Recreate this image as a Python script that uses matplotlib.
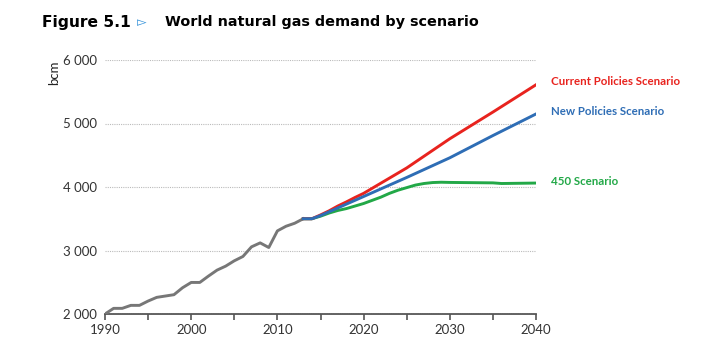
import matplotlib.pyplot as plt
from matplotlib.ticker import FuncFormatter, MultipleLocator

# historical demand (bcm)
hist_years = list(range(1990, 2014))
hist_vals = [2000, 2089, 2089, 2136, 2136, 2204, 2262, 2283, 2304, 2414,
             2497, 2497, 2597, 2691, 2754, 2838, 2906, 3058, 3120, 3047,
             3309, 3382, 3429, 3500]

# scenario projections
proj_years = [2013, 2014, 2015, 2016, 2017, 2018, 2019, 2020, 2025, 2030, 2035, 2040]
current_pol = [3500, 3500, 3560, 3625, 3700, 3765, 3835, 3900, 4300, 4760, 5180, 5610]
new_pol = [3500, 3500, 3550, 3610, 3670, 3730, 3790, 3850, 4150, 4460, 4810, 5150]

s450_years = [2013, 2014, 2015, 2016, 2017, 2018, 2019, 2020, 2021, 2022, 2023,
              2024, 2025, 2026, 2027, 2028, 2029, 2030, 2035, 2036, 2040]
s450 = [3500, 3500, 3540, 3590, 3630, 3660, 3700, 3740, 3790, 3840, 3900,
        3950, 3990, 4030, 4055, 4070, 4075, 4072, 4065, 4055, 4062]

red = '#e8231e'
blue = '#2e6db5'
green = '#22a847'
grey = '#777777'

fig = plt.figure(figsize=(7.15, 3.6), dpi=100)
ax = fig.add_axes([105/715, 1-314/360, 431/715, 254/360])

ax.plot(hist_years, hist_vals, color=grey, lw=2.1, solid_joinstyle='round')
ax.plot(s450_years, s450, color=green, lw=2.1)
ax.plot(proj_years, current_pol, color=red, lw=2.1)
ax.plot(proj_years, new_pol, color=blue, lw=2.1)

ax.set_xlim(1990, 2040)
ax.set_ylim(2000, 6000)
ax.set_xticks(range(1990, 2041, 10))
ax.xaxis.set_minor_locator(MultipleLocator(5))
ax.set_yticks([2000, 3000, 4000, 5000, 6000])
ax.yaxis.set_major_formatter(FuncFormatter(lambda v, p: f'{int(v):,}'.replace(',', ' ')))

for s in ['top', 'right', 'left']:
    ax.spines[s].set_visible(False)
ax.spines['bottom'].set_color('#555555')
ax.spines['bottom'].set_linewidth(1.3)
ax.spines['bottom'].set_zorder(0)
ax.tick_params(axis='x', which='both', length=4, width=1.2, color='#555555',
               labelsize=9.5, labelcolor='#333333', pad=3)
ax.tick_params(axis='y', length=0, labelsize=9.5, labelcolor='#333333', pad=6)
for lab in ax.get_xticklabels() + ax.get_yticklabels():
    lab.set_family('Lato')
ax.grid(axis='y', color='#bbbbbb', ls=(0, (1, 1)), lw=0.8)
ax.set_axisbelow(True)
ax.set_ylabel('bcm', fontsize=9.5, family='Lato', color='#222222')
ax.yaxis.set_label_coords(-0.105, 0.95)

# scenario labels
lab_kw = dict(fontsize=8.3, fontweight='bold', family='Lato', va='center',
              transform=ax.transData, clip_on=False)
ax.text(2041.7, 5660, 'Current Policies Scenario', color=red, **lab_kw)
ax.text(2041.7, 5190, 'New Policies Scenario', color=blue, **lab_kw)
ax.text(2041.7, 4080, '450 Scenario', color=green, **lab_kw)

# title
fig.text(42/715, 1-22/360, 'Figure 5.1', fontsize=11.2, fontweight='bold',
         family='DejaVu Sans', va='center')
fig.text(137/715, 1-23/360, '▻', fontsize=9, color='#2f8fd8',
         family='DejaVu Sans', va='center')
fig.text(165/715, 1-22/360, 'World natural gas demand by scenario', fontsize=10.4,
         fontweight='bold', family='DejaVu Sans', va='center')

fig.savefig('out.png', dpi=100)
